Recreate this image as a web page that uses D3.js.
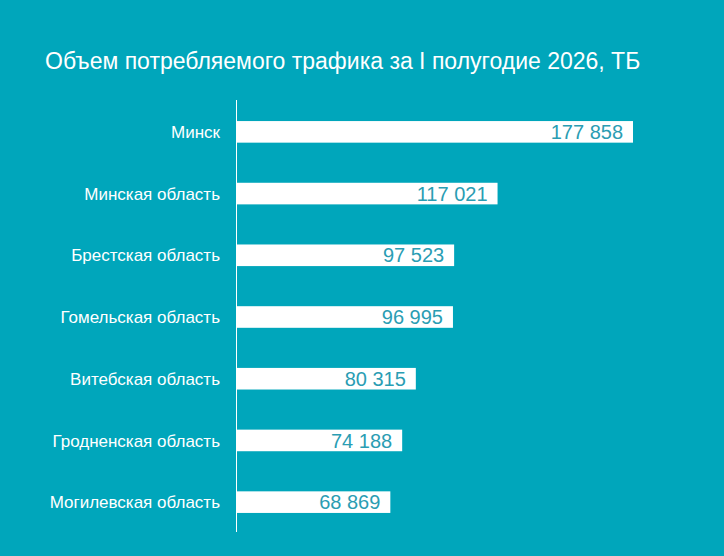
<!DOCTYPE html>
<html>
<head>
<meta charset="utf-8">
<script src="https://cdn.jsdelivr.net/npm/d3@7"></script>
<style>
  html, body { margin: 0; padding: 0; background: #00a6bb; }
  svg { display: block; font-family: "Liberation Sans", Arial, sans-serif; }
</style>
</head>
<body>
<div id="chart"></div>
<script>
// chart data
const titleText = "Объем потребляемого трафика за I полугодие 2026, ТБ";
const regions = ["Минск", "Минская область", "Брестская область", "Гомельская область",
    "Витебская область", "Гродненская область", "Могилевская область"];
const traffic = [177858, 117021, 97523, 96995, 80315, 74188, 68869];

let width = 724,
    height = 556;

let svg = d3.select("#chart")
    .append("svg")
    .attr("width", width)
    .attr("height", height);

svg.append("rect")
    .attr("width", width)
    .attr("height", height)
    .attr("fill", "#00a6bb");

// title
svg.append("text")
    .attr("x", 45)
    .attr("y", 69)
    .attr("fill", "white")
    .style("font-size", "23px")
    .text(titleText);

// scales
let x = d3.scaleLinear()
    .domain([0, d3.max(traffic)])
    .range([237, 633]);

let y = d3.scaleBand()
    .domain(regions)
    .range([101, 533])
    .paddingInner(0.65)
    .paddingOuter(0.325);

// format numbers with a space as thousands separator
const fmt = d => d3.format(",")(d).replace(/,/g, " ");

let rows = svg.append("g")
    .selectAll("g")
    .data(regions)
    .join("g");

rows.append("rect")
    .attr("x", x(0))
    .attr("y", d => y(d))
    .attr("width", (d, i) => x(traffic[i]) - x(0))
    .attr("height", y.bandwidth())
    .attr("fill", "white");

rows.append("text")
    .attr("x", (d, i) => x(traffic[i]) - 10)
    .attr("y", d => y(d) + y.bandwidth() / 2)
    .attr("dy", "0.36em")
    .attr("text-anchor", "end")
    .attr("fill", "#2a9db3")
    .style("font-size", "20px")
    .text((d, i) => fmt(traffic[i]));

// category labels
rows.append("text")
    .attr("x", 220)
    .attr("y", d => y(d) + y.bandwidth() / 2)
    .attr("dy", "0.36em")
    .attr("text-anchor", "end")
    .attr("fill", "white")
    .style("font-size", "17px")
    .text(d => d);

// vertical axis line
svg.append("line")
    .attr("x1", 236.5)
    .attr("x2", 236.5)
    .attr("y1", 100)
    .attr("y2", 532)
    .attr("stroke", "white")
    .attr("stroke-width", 1);
</script>
</body>
</html>
